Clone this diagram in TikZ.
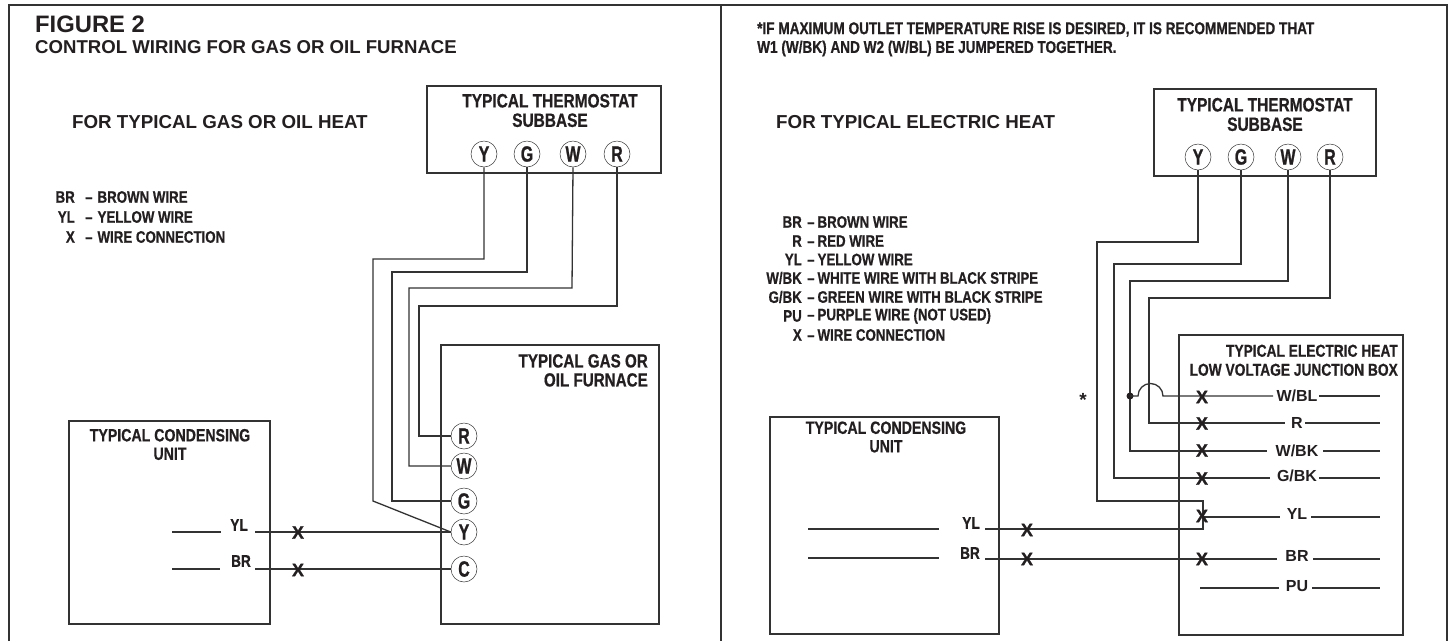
\documentclass[tikz,border=0pt]{standalone}
\usepackage{fontspec}
\setmainfont{Liberation Sans}
\newfontfamily\cnfont[FakeStretch=0.8,FakeBold=0.6]{Liberation Sans Bold}
\newfontfamily\tmfont[FakeStretch=0.72,FakeBold=1]{Liberation Sans Bold}
\newfontfamily\wdfont{Liberation Sans Bold}
\newfontfamily\xfont[FakeBold=1]{Liberation Sans Bold}
\definecolor{ink}{HTML}{231F20}
\definecolor{wire}{HTML}{333333}
\tikzset{
  box/.style={draw=wire,line width=1.3pt,fill=white,rectangle,inner sep=0pt},
  wirepath/.style={draw=wire,line width=1.3pt,line join=miter},
  frameline/.style={draw=wire,line width=1.6pt},
  term/.style={circle,draw=wire,line width=0.5pt,fill=white,minimum size=26pt,inner sep=0pt,text=ink,font=\tmfont\fontsize{22}{22}\selectfont},
  xmark/.style={inner sep=0pt,text=ink,font=\xfont\fontsize{18}{18}\selectfont},
  boxlabel/.style={inner sep=0pt,text=ink,align=center,font=\cnfont\fontsize{19.3}{19.5}\selectfont},
  condlabel/.style={inner sep=0pt,text=ink,align=center,font=\cnfont\fontsize{17.7}{18.5}\selectfont},
  furnlabel/.style={inner sep=0pt,text=ink,align=right,font=\cnfont\fontsize{19}{19}\selectfont},
  jblabel/.style={inner sep=0pt,text=ink,align=right,font=\cnfont\fontsize{17.2}{19}\selectfont},
  wirelabel/.style={inner sep=0pt,text=ink,font=\cnfont\fontsize{17}{17}\selectfont},
  eleclabel/.style={inner sep=0pt,text=ink,font=\wdfont\fontsize{16}{16}\selectfont},
  legend/.style={inner sep=0pt,text=ink,font=\cnfont\fontsize{16.6}{16}\selectfont},
  heading/.style={inner sep=0pt,text=ink,anchor=west,font=\wdfont\fontsize{18.75}{19}\selectfont},
  note/.style={inner sep=0pt,text=ink,anchor=west,font=\cnfont\fontsize{17}{18}\selectfont},
}
\begin{document}
\begin{tikzpicture}[x=1pt,y=-1pt]
\useasboundingbox (0,0) rectangle (1452,641);
\fill[white] (0,0) rectangle (1452,641);
% frame
\coordinate (fBL) at (9,641); \coordinate (fTL) at (9,5); \coordinate (fTR) at (1447,5); \coordinate (fBR) at (1447,641);
\coordinate (dT) at (721,5); \coordinate (dB) at (721,641);
\draw[frameline] (fBL) -- (fTL) -- (fTR) -- (fBR);
\draw[frameline] (dT) -- (dB);
% titles
\node[inner sep=0pt,text=ink,anchor=west,font=\wdfont\fontsize{23.8}{24}\selectfont] (fig) at (35,24.5) {FIGURE 2};
\node[inner sep=0pt,text=ink,anchor=west,font=\wdfont\fontsize{18.6}{19}\selectfont] (ctl) at (35,47.5) {CONTROL WIRING FOR GAS OR OIL FURNACE};
\node[heading] (hL) at (72,122.5) {FOR TYPICAL GAS OR OIL HEAT};
\node[heading] (hR) at (776,122.5) {FOR TYPICAL ELECTRIC HEAT};
\node[note] (n1) at (757,29.5) {*IF MAXIMUM OUTLET TEMPERATURE RISE IS DESIRED, IT IS RECOMMENDED THAT};
\node[note] (n2) at (757,48.5) {W1 (W/BK) AND W2 (W/BL) BE JUMPERED TOGETHER.};
% left legend
\node[legend,anchor=east] (la1) at (75,197) {BR}; \node[legend,anchor=west] (lb1) at (85,197) {–\hspace{5pt}BROWN WIRE};
\node[legend,anchor=east] (la2) at (75,217) {YL}; \node[legend,anchor=west] (lb2) at (85,217) {–\hspace{5pt}YELLOW WIRE};
\node[legend,anchor=east] (la3) at (75,237) {X};  \node[legend,anchor=west] (lb3) at (85,237) {–\hspace{5pt}WIRE CONNECTION};
% right legend
\node[legend,anchor=east] (ra1) at (802,222) {BR}; \node[legend,anchor=west] (rb1) at (807,222) {–\hspace{3pt}BROWN WIRE};
\node[legend,anchor=east] (ra2) at (802,241) {R}; \node[legend,anchor=west] (rb2) at (807,241) {–\hspace{3pt}RED WIRE};
\node[legend,anchor=east] (ra3) at (802,259.5) {YL}; \node[legend,anchor=west] (rb3) at (807,259.5) {–\hspace{3pt}YELLOW WIRE};
\node[legend,anchor=east] (ra4) at (802,278) {W/BK}; \node[legend,anchor=west] (rb4) at (807,278) {–\hspace{3pt}WHITE WIRE WITH BLACK STRIPE};
\node[legend,anchor=east] (ra5) at (802,297) {G/BK}; \node[legend,anchor=west] (rb5) at (807,297) {–\hspace{3pt}GREEN WIRE WITH BLACK STRIPE};
\node[legend,anchor=east] (ra6) at (802,316) {PU}; \node[legend,anchor=west] (rb6) at (807,316) {–\hspace{3pt}PURPLE WIRE (NOT USED)};
\node[legend,anchor=east] (ra7) at (802,335) {X}; \node[legend,anchor=west] (rb7) at (807,335) {–\hspace{3pt}WIRE CONNECTION};

% LEFT PANEL boxes
\node[box,minimum width=234pt,minimum height=87pt] (thL) at (544,129.5) {};
\node[boxlabel] (thLt) at (550,110.5) {TYPICAL THERMOSTAT\\SUBBASE};
\node[box,minimum width=218pt,minimum height=279pt] (furn) at (550,484.5) {};
\node[furnlabel,anchor=north east] (furnT) at (648,354) {TYPICAL GAS OR\\OIL FURNACE};
\node[box,minimum width=201pt,minimum height=203pt] (cuL) at (169.5,522.5) {};
\node[condlabel] (cuLt) at (170,444.5) {TYPICAL CONDENSING\\UNIT};

% left thermostat terminals
\node[term] (lY) at (484,154) {Y}; \node[term] (lG) at (527,154) {G};
\node[term] (lW) at (573,154) {W}; \node[term] (lR) at (617,154) {R};
% furnace terminals
\node[term] (fR) at (464,436) {R}; \node[term] (fW) at (464,466) {W};
\node[term] (fG) at (464,501) {G}; \node[term] (fY) at (464,532) {Y};
\node[term] (fC) at (464,569) {C};
% left wires
\coordinate (a1) at (484,173); \coordinate (a2) at (484,259); \coordinate (a3) at (373,259); \coordinate (a4) at (373,501);
\draw[wirepath] (lY.south) -- (a2) -- (a3) -- (a4) -- (fY.west);
\coordinate (b2) at (527,272); \coordinate (b3) at (392,272);
\draw[wirepath] (lG.south) -- (b2) -- (b3) |- (fG.west);
\coordinate (c2) at (572,288); \coordinate (c3) at (409,288);
\draw[wirepath] (lW.south) -- (c2) -- (c3) |- (fW.west);
\coordinate (d2) at (617,306); \coordinate (d3) at (419,306);
\draw[wirepath] (lR.south) -- (d2) -- (d3) |- (fR.west);
% left condensing unit wires
\node[wirelabel] (lYL) at (239,525) {YL};
\node[wirelabel] (lBR) at (241,561) {BR};
\coordinate (e1) at (172,532); \coordinate (e2) at (221,532); \coordinate (e3) at (255,532);
\coordinate (e4) at (172,569); \coordinate (e5) at (220,569); \coordinate (e6) at (255,569);
\draw[wirepath] (e1) -- (e2);
\draw[wirepath] (e3) -- (fY.west);
\draw[wirepath] (e4) -- (e5);
\draw[wirepath] (e6) -- (fC.west);
\node[xmark] (xL1) at (298,532.5) {X};
\node[xmark] (xL2) at (298,570) {X};

% RIGHT PANEL boxes
\node[box,minimum width=222pt,minimum height=87pt] (thR) at (1265,132.5) {};
\node[boxlabel] (thRt) at (1265,114.5) {TYPICAL THERMOSTAT\\SUBBASE};
\node[box,minimum width=224pt,minimum height=300pt] (jb) at (1291,485) {};
\node[jblabel,anchor=north east] (jbT) at (1398,344.5) {TYPICAL ELECTRIC HEAT\\LOW VOLTAGE JUNCTION BOX};
\node[box,minimum width=229pt,minimum height=217pt] (cuR) at (884.5,525.5) {};
\node[condlabel] (cuRt) at (886,437) {TYPICAL CONDENSING\\UNIT};

\node[term] (rY) at (1198,157) {Y}; \node[term] (rG) at (1241,157) {G};
\node[term] (rW) at (1288,157) {W}; \node[term] (rR) at (1330,157) {R};

% junction box labels
\node[eleclabel] (jWBL) at (1297,396) {W/BL};
\node[eleclabel] (jR) at (1297,423) {R};
\node[eleclabel] (jWBK) at (1297,451) {W/BK};
\node[eleclabel] (jGBK) at (1297,476) {G/BK};
\node[eleclabel] (jYL) at (1297,514) {YL};
\node[eleclabel] (jBR) at (1297,556) {BR};
\node[eleclabel] (jPU) at (1297,586) {PU};
% junction box right stubs
\coordinate (s1a) at (1319,396); \coordinate (s1b) at (1380,396);
\coordinate (s2a) at (1305,423); \coordinate (s2b) at (1380,423);
\coordinate (s3a) at (1323,451); \coordinate (s3b) at (1380,451);
\coordinate (s4a) at (1319,478); \coordinate (s4b) at (1380,478);
\coordinate (s5a) at (1311,517); \coordinate (s5b) at (1380,517);
\coordinate (s6a) at (1313,559); \coordinate (s6b) at (1380,559);
\coordinate (s7a) at (1312,588); \coordinate (s7b) at (1380,588);
\draw[wirepath] (s1a)--(s1b); \draw[wirepath] (s2a)--(s2b); \draw[wirepath] (s3a)--(s3b);
\draw[wirepath] (s4a)--(s4b); \draw[wirepath] (s5a)--(s5b); \draw[wirepath] (s6a)--(s6b);
\draw[wirepath] (s7a)--(s7b);
% thermostat wires (right)
\coordinate (r1) at (1330,298); \coordinate (r2) at (1149,298); \coordinate (r3) at (1149,423); \coordinate (r4) at (1285,423);
\draw[wirepath] (rR.south) -- (r1) -- (r2) -- (r3) -- (r4);
\coordinate (w1) at (1288,281); \coordinate (w2) at (1130,281); \coordinate (w3) at (1130,451); \coordinate (w4) at (1267,451);
\draw[wirepath] (rW.south) -- (w1) -- (w2) -- (w3) -- (w4);
\coordinate (g1) at (1241,264); \coordinate (g2) at (1114,264); \coordinate (g3) at (1114,478); \coordinate (g4) at (1270,478);
\draw[wirepath] (rG.south) -- (g1) -- (g2) -- (g3) -- (g4);
\coordinate (y1) at (1198,242); \coordinate (y2) at (1097,242); \coordinate (y3) at (1097,501); \coordinate (y4) at (1203,501);
\coordinate (y5) at (1203,529); \coordinate (y6) at (985,529);
\draw[wirepath] (rY.south) -- (y1) -- (y2) -- (y3) -- (y4) -- (y5) -- (y6);
% W/BL with jumper
\node[circle,fill=ink,minimum size=7pt,inner sep=0pt] (dot) at (1130,396) {};
\coordinate (j1) at (1138,396); \coordinate (j2) at (1163,396); \coordinate (j3) at (1273,396);
\draw[wirepath] (dot.center) -- (j1) arc[start angle=180,end angle=0,radius=12.5pt] -- (j3);
% other junction box wires
\coordinate (yl1) at (1203,517); \coordinate (yl2) at (1280,517);
\draw[wirepath] (yl1) -- (yl2);
\coordinate (br1) at (985,559); \coordinate (br2) at (1277,559);
\draw[wirepath] (br1) -- (br2);
\coordinate (pu1) at (1200,588); \coordinate (pu2) at (1279,588);
\draw[wirepath] (pu1) -- (pu2);
% right condensing stubs
\coordinate (q1) at (808,529); \coordinate (q2) at (939,529);
\coordinate (q3) at (808,558); \coordinate (q4) at (939,558);
\draw[wirepath] (q1) -- (q2); \draw[wirepath] (q3) -- (q4);
\node[wirelabel] (rYL) at (971,523) {YL};
\node[wirelabel] (rBR) at (970,553) {BR};
% X marks right
\node[xmark] (xA) at (1202,397) {X};
\node[xmark] (xB) at (1202,423.5) {X};
\node[xmark] (xC) at (1202,450.5) {X};
\node[xmark] (xD) at (1202,478.5) {X};
\node[xmark] (xE) at (1202,516) {X};
\node[xmark] (xF) at (1202,559) {X};
\node[xmark] (xG) at (1027,530) {X};
\node[xmark] (xH) at (1027,559) {X};
\node[inner sep=0pt,text=ink,font=\wdfont\fontsize{19}{19}\selectfont] (star) at (1083,400) {*};
\end{tikzpicture}
\end{document}
